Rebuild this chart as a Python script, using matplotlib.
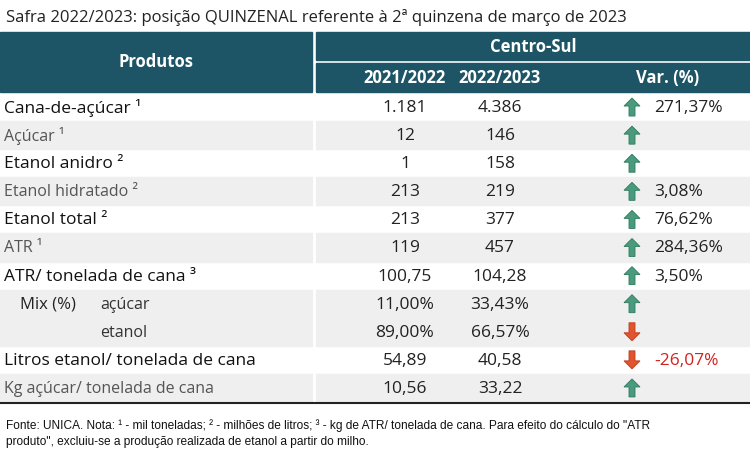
import matplotlib
matplotlib.use("Agg")
import matplotlib.pyplot as plt
from matplotlib.patches import Rectangle, Polygon

products = ["Cana-de-açúcar ¹", "Açúcar ¹", "Etanol anidro ²", "Etanol hidratado ²", "Etanol total ²",
            "ATR ¹", "ATR/ tonelada de cana ³", "açúcar", "etanol",
            "Litros etanol/ tonelada de cana", "Kg açúcar/ tonelada de cana"]
v2122 = ["1.181", "12", "1", "213", "213", "119", "100,75", "11,00%", "89,00%", "54,89", "10,56"]
v2223 = ["4.386", "146", "158", "219", "377", "457", "104,28", "33,43%", "66,57%", "40,58", "33,22"]
var = ["271,37%", "", "", "3,08%", "76,62%", "284,36%", "3,50%", "", "", "-26,07%", ""]
direction = [1, 1, 1, 1, 1, 1, 1, 1, -1, -1, 1]
shaded = [0, 1, 0, 1, 0, 1, 0, 1, 1, 0, 1]

plt.rcParams['font.family'] = ['Open Sans', 'DejaVu Sans']
fig = plt.figure(figsize=(7.5, 4.64), dpi=100)
ax = fig.add_axes([0, 0, 1, 1])
ax.set_xlim(0, 750); ax.set_ylim(464, 0); ax.axis('off')

teal = "#1d5566"
ax.text(6, 18, "Safra 2022/2023: posição QUINZENAL referente à 2ª quinzena de março de 2023",
        fontsize=12, va='center', color='#222')
ax.add_patch(Rectangle((0, 33), 312, 60, color=teal))
ax.add_patch(Rectangle((316, 33), 434, 28, color=teal))
ax.add_patch(Rectangle((316, 64), 434, 29, color=teal))
ax.text(156, 62, "Produtos", color='white', fontsize=12, fontweight='bold', ha='center', va='center')
ax.text(533, 47, "Centro-Sul", color='white', fontsize=12, fontweight='bold', ha='center', va='center')
for x, t in [(405, "2021/2022"), (500, "2022/2023"), (668, "Var. (%)")]:
    ax.text(x, 78, t, color='white', fontsize=12, fontweight='bold', ha='center', va='center')

top, bottom = 94, 403
h = (bottom - top) / len(products)
for i, p in enumerate(products):
    y0 = top + i * h
    yc = y0 + h / 2
    if shaded[i]:
        ax.add_patch(Rectangle((0, y0), 750, h, color='#efefef'))
    small = p in ("Açúcar ¹", "Etanol hidratado ²", "ATR ¹", "Kg açúcar/ tonelada de cana")
    if i in (7, 8):
        ax.text(100, yc, p, fontsize=11.5, va='center', color='#333')
    else:
        ax.text(4, yc, p, fontsize=11.5 if small else 12.5, va='center',
                color='#555' if small else '#111')
    ax.text(405, yc, v2122[i], fontsize=12.5, ha='center', va='center', color='#222')
    ax.text(500, yc, v2223[i], fontsize=12.5, ha='center', va='center', color='#222')
    if var[i]:
        ax.text(654, yc, var[i], fontsize=12.5, va='center',
                color='#d42020' if direction[i] < 0 else '#222')
    cx = 632
    d = direction[i]
    col = '#4a9a7e' if d > 0 else '#e0542f'
    ec = '#2f7a5f' if d > 0 else '#c03a1a'
    tip = yc - 9 * d
    base = yc + 9 * d
    mid = yc - 1 * d
    pts = [(cx, tip), (cx + 8, mid), (cx + 3, mid), (cx + 3, base), (cx - 3, base), (cx - 3, mid), (cx - 8, mid)]
    ax.add_patch(Polygon(pts, closed=True, facecolor=col, edgecolor=ec, lw=0.6))
ax.text(20, top + 7.5 * h, "Mix (%)", fontsize=12, va='center', color='#222')
ax.plot([312 + 2, 312 + 2], [top, bottom], color='white', lw=2)
ax.plot([0, 750], [bottom + 1, bottom + 1], color='#222', lw=1.5)

ax.text(6, 426, 'Fonte: UNICA. Nota: ¹ - mil toneladas; ² - milhões de litros; ³ - kg de ATR/ tonelada de cana. Para efeito do cálculo do "ATR',
        fontsize=8.6, va='center', color='#111', family=['Liberation Sans', 'DejaVu Sans'])
ax.text(6, 442, 'produto", excluiu-se a produção realizada de etanol a partir do milho.',
        fontsize=8.6, va='center', color='#111', family=['Liberation Sans', 'DejaVu Sans'])
fig.savefig("out.png", dpi=100)
